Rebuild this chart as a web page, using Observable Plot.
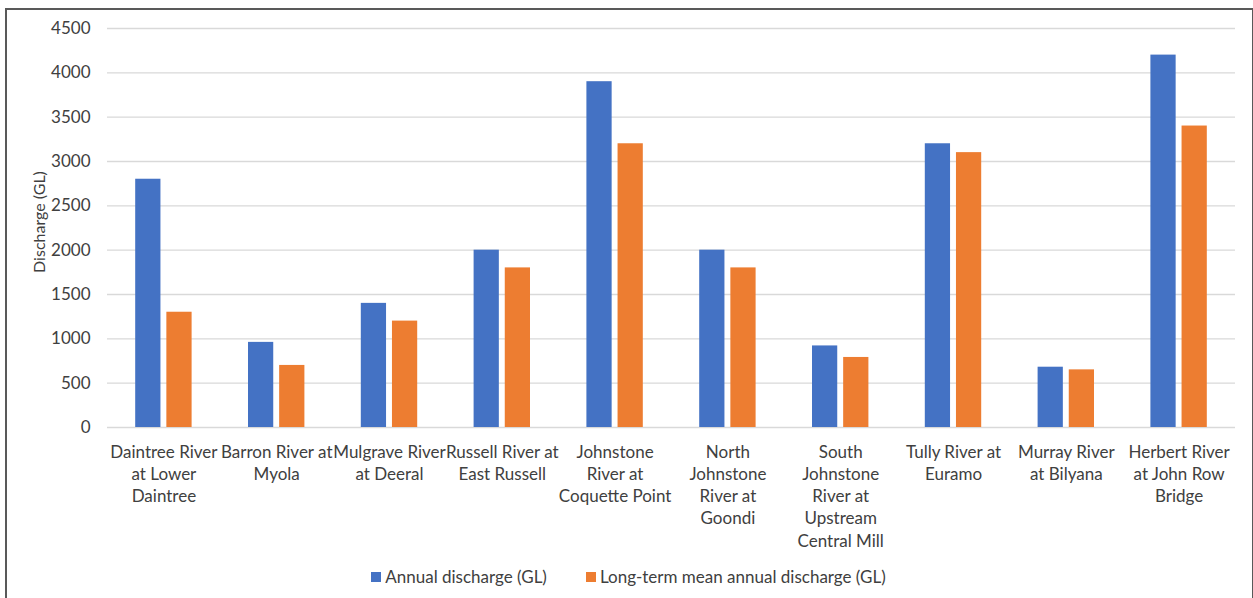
<!DOCTYPE html>
<html>
<head>
<meta charset="utf-8">
<script src="https://cdn.jsdelivr.net/npm/d3@7"></script>
<script src="https://cdn.jsdelivr.net/npm/@observablehq/plot@0.6"></script>
<style>
  html, body { margin: 0; padding: 0; background: #fff; }
  body { width: 1253px; height: 598px; position: relative; overflow: hidden; font-family: Lato, sans-serif; }
  #frame { position: absolute; left: 5px; top: 8px; width: 1245px; height: 600px; border: 2px solid #595959; border-bottom: none; pointer-events: none; }
  #grid, #chart { position: absolute; left: 0; top: 0; }
  #ytitle { position: absolute; left: 38px; top: 222px; transform: translate(-50%, -50%) rotate(-90deg); white-space: nowrap; font-size: 16px; color: #404040; }
  #legend { position: absolute; top: 566px; left: 5px; width: 1247px; display: flex; justify-content: center; gap: 39px; font-size: 17px; color: #404040; }
  .item { display: flex; align-items: center; }
  .swatch { width: 10px; height: 10px; margin-right: 4px; }
</style>
</head>
<body>
<div id="grid"></div>
<div id="chart"></div>
<div id="ytitle">Discharge (GL)</div>
<div id="frame"></div>
<div id="legend"></div>
<script>
// Gauging stations, in display order
const stations = [
  "Daintree River at Lower Daintree",
  "Barron River at Myola",
  "Mulgrave River at Deeral",
  "Russell River at East Russell",
  "Johnstone River at Coquette Point",
  "North Johnstone River at Goondi",
  "South Johnstone River at Upstream Central Mill",
  "Tully River at Euramo",
  "Murray River at Bilyana",
  "Herbert River at John Row Bridge"
];

// Category tick labels, wrapped onto lines
const stationLabels = [
  "Daintree River\nat Lower\nDaintree",
  "Barron River at\nMyola",
  "Mulgrave River\nat Deeral",
  "Russell River at\nEast Russell",
  "Johnstone\nRiver at\nCoquette Point",
  "North\nJohnstone\nRiver at\nGoondi",
  "South\nJohnstone\nRiver at\nUpstream\nCentral Mill",
  "Tully River at\nEuramo",
  "Murray River\nat Bilyana",
  "Herbert River\nat John Row\nBridge"
];

// Discharge in gigalitres
const annual   = [2800, 960, 1400, 2000, 3900, 2000, 920, 3200, 680, 4200];
const longTerm = [1300, 700, 1200, 1800, 3200, 1800, 790, 3100, 650, 3400];

const seriesNames  = ["Annual discharge (GL)", "Long-term mean annual discharge (GL)"];
const seriesColors = ["#4472c4", "#ed7d31"];
const yTicks = [0, 500, 1000, 1500, 2000, 2500, 3000, 3500, 4000, 4500];

const data = stations.flatMap((s, i) => [
  {station: s, series: seriesNames[0], value: annual[i]},
  {station: s, series: seriesNames[1], value: longTerm[i]}
]);

// Shared frame geometry for the grid layer and the bar layer
const frame = {width: 1253, height: 560, marginLeft: 107, marginRight: 18, marginTop: 28, marginBottom: 133};
const font = {fontFamily: "Lato, sans-serif", fontSize: "17px", color: "#404040", background: "transparent", overflow: "visible"};

// Value axis and horizontal gridlines spanning the whole plot area
const grid = Plot.plot({
  ...frame,
  style: font,
  y: {domain: [0, 4500]},
  marks: [
    Plot.ruleY(yTicks, {stroke: "#d9d9d9", strokeWidth: 1.3}),
    Plot.axisY(yTicks, {
      tickSize: 0, tickPadding: 17, fontSize: 17,
      tickFormat: d => String(d), label: null
    })
  ]
});
document.getElementById("grid").appendChild(grid);

// Grouped bars, one facet per station
const chart = Plot.plot({
  ...frame,
  style: font,
  fx: {domain: stations, paddingInner: 0.5, paddingOuter: 0.25, round: false},
  x: {domain: seriesNames, paddingInner: 0.19, paddingOuter: 0, round: false, axis: null},
  y: {domain: [0, 4500], axis: null},
  color: {domain: seriesNames, range: seriesColors},
  marks: [
    Plot.axisFx({
      anchor: "bottom", tickSize: 0, tickPadding: 15, label: null, fontSize: 17,
      lineHeight: 1.3,
      tickFormat: d => stationLabels[stations.indexOf(d)]
    }),
    Plot.barY(data, {fx: "station", x: "series", y: "value", fill: "series"})
  ]
});
document.getElementById("chart").appendChild(chart);

// Legend below the chart
const legend = document.getElementById("legend");
seriesNames.forEach((name, i) => {
  const item = document.createElement("div");
  item.className = "item";
  const sw = document.createElement("span");
  sw.className = "swatch";
  sw.style.background = seriesColors[i];
  const label = document.createElement("span");
  label.textContent = name;
  item.appendChild(sw);
  item.appendChild(label);
  legend.appendChild(item);
});
</script>
</body>
</html>
